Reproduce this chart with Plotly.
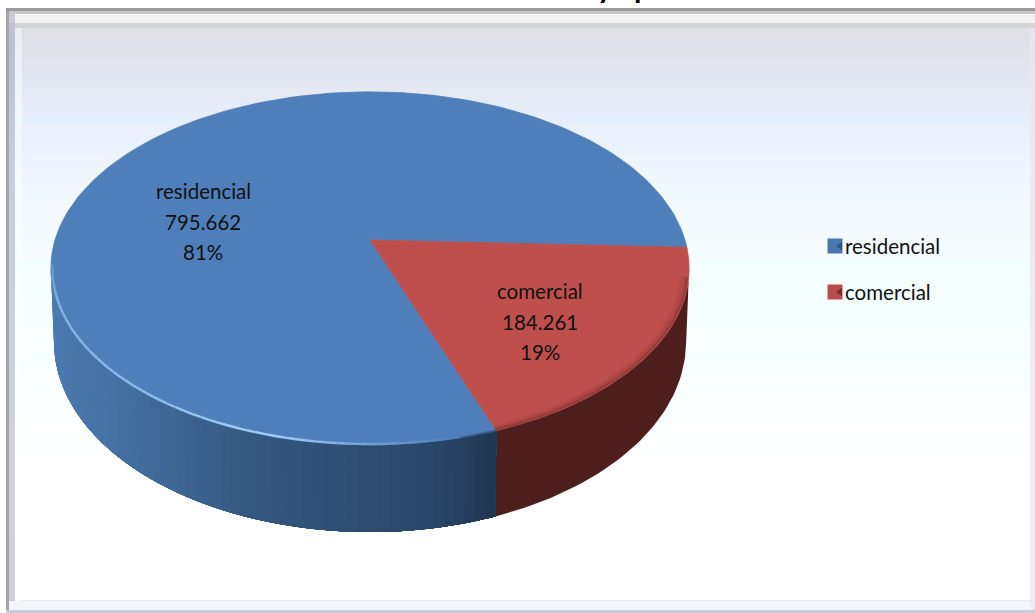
import numpy as np
import plotly.graph_objects as go

categories = ["residencial", "comercial"]
values = [795662, 184261]
value_labels = ["795.662", "184.261"]
percent_labels = ["81%", "19%"]
top_colors = ["#4f7fba", "#bf4f4c"]

FONT = "Lato"
W, H = 1035, 613
CX, CY, A, B, K = 370.0, 240.0, 315.0, 172.0, 0.161
START = -2.4
BCX, BCY, BRX, BRY = 370.0, 342.0, 316.0, 190.0

blue_side_x = [50, 130, 230, 330, 430, 470, 496]
blue_side_rgb = [(76, 122, 176), (66, 110, 158), (54, 90, 132), (47, 79, 116), (41, 70, 103), (35, 60, 88), (30, 52, 78)]
red_side_rgb = (77, 30, 28)

bg_y = [28, 70, 120, 200, 300, 400, 460, 601]
bg_rgb = [(222, 224, 229), (225, 229, 238), (232, 239, 252), (243, 249, 255), (245, 255, 255), (251, 255, 255), (255, 255, 255), (254, 254, 254)]


def project(phi_deg):
    p = np.radians(phi_deg)
    X, Y = np.cos(p), np.sin(p)
    w = 1 + K * Y
    return CX + A * X / w, CY - B * Y / w


def bottom_edge(xt):
    xb = BCX + BRX * (xt - CX) / 319.0
    u = np.clip((xb - BCX) / BRX, -1, 1)
    return xb, BCY + BRY * np.sqrt(1 - u ** 2)


def rgb(c):
    return "rgb(%d,%d,%d)" % tuple(int(round(v)) for v in c)


def lerp_rgb(x, xs, cs):
    return tuple(np.interp(x, xs, [c[i] for c in cs]) for i in range(3))


shares = np.array(values, dtype=float) / sum(values)
red_sweep = shares[1] * 360
red_a, red_b = START, START - red_sweep
blue_a, blue_b = red_b, red_b - shares[0] * 360

fig = go.Figure()
shapes = []


def rect(x0, y0, x1, y1, color):
    shapes.append(dict(type="rect", x0=x0, y0=y0, x1=x1, y1=y1, fillcolor=color,
                       line=dict(width=0), layer="below"))


# Panel with vertical gradient
for y in np.arange(8, 613, 4):
    rect(6, y, W, y + 4, rgb(lerp_rgb(y, bg_y, bg_rgb)))
# Bevel
rect(6, 8, W, 11, "#9a9a9a")
rect(6, 11, W, 14, "#c8c8c8")
rect(9, 14, W, 23, "#f3f3f3")
rect(15, 23, W, 28, "#d4d4d6")
rect(6, 11, 9, 613, "#a4a6ac")
rect(9, 14, 15, 613, "rgba(150,155,180,0.45)")
rect(15, 28, 22, 601, "rgba(255,255,255,0.45)")
rect(22, 600, W, 601, "rgba(225,228,240,0.8)")
rect(9, 601, W, 610, "#f4f5fb")
rect(6, 610, W, 613, "#c8ccda")
rect(1030, 28, W, 610, "rgba(232,230,246,0.75)")


def add_poly(xs, ys, color, edge=0):
    fig.add_trace(go.Scatter(x=xs, y=ys, mode="lines", fill="toself", fillcolor=color,
                             line=dict(width=edge, color=color), hoverinfo="skip", showlegend=False))


# Side wall: painter's order, each band reaches to the far end of its slice so no seams show
ph = np.linspace(-9.0, red_b, 50)
xt, yt = project(ph)
xb, yb = bottom_edge(xt)
add_poly(list(xt) + list(xb[::-1]), list(yt) + list(yb[::-1]), rgb(red_side_rgb))

edges_blue = np.linspace(-171.0, red_b, 61)
for a0 in edges_blue[:-1]:
    ph = np.linspace(a0, red_b, 60)
    xt, yt = project(ph)
    xb, yb = bottom_edge(xt)
    col = rgb(lerp_rgb(float(xt[0]), blue_side_x, blue_side_rgb))
    add_poly(list(xt) + list(xb[::-1]), list(yt) + list(yb[::-1]), col)

# Top face slices
for i, (a, b) in enumerate([(blue_a, blue_b), (red_a, red_b)]):
    ph = np.linspace(a, b, 240)
    xt, yt = project(ph)
    add_poly([CX] + list(xt) + [CX], [CY] + list(yt) + [CY], top_colors[i], edge=0.8)

# Soft shading along the red rim
for inset, alpha, width in [(0.996, 0.40, 2), (0.990, 0.22, 3), (0.980, 0.10, 4)]:
    ph = np.linspace(-12, red_b, 60)
    xt, yt = project(ph)
    fig.add_trace(go.Scatter(x=CX + (xt - CX) * inset, y=CY + (yt - CY) * inset, mode="lines",
                             line=dict(color="rgba(100,38,36,%.2f)" % alpha, width=width),
                             hoverinfo="skip", showlegend=False))

# Fading dark rim on the blue front edge, right of the highlight
rim_edges = np.linspace(272, 360 + red_b, 25)
for a0, a1 in zip(rim_edges[:-1], rim_edges[1:]):
    alpha = float(np.interp(0.5 * (a0 + a1), [272, 285, 360 + red_b], [0.0, 0.35, 0.6]))
    xt, yt = project(np.linspace(a0, a1, 3))
    fig.add_trace(go.Scatter(x=xt, y=yt, mode="lines", line=dict(color="rgba(40,70,105,%.2f)" % alpha, width=3),
                             hoverinfo="skip", showlegend=False))

# Highlight along the blue front edge
ph_edges = np.linspace(188, 284, 61)
for a0, a1 in zip(ph_edges[:-1], ph_edges[1:]):
    m = 0.5 * (a0 + a1)
    strength = float(np.interp(m, [188, 200, 235, 255, 270, 284], [0.25, 0.55, 0.7, 0.9, 0.35, 0.0]))
    col = rgb(tuple(np.array([79, 127, 186]) + strength * (np.array([170, 218, 255]) - np.array([79, 127, 186]))))
    xt, yt = project(np.linspace(a0, a1, 3))
    fig.add_trace(go.Scatter(x=CX + (xt - CX) * 0.995, y=CY + (yt - CY) * 0.995, mode="lines",
                             line=dict(color=col, width=2.4), hoverinfo="skip", showlegend=False))

# Legend keys
legend_y = [246, 292]
key_colors = ["#4a78ad", "#b94d4b"]
key_dark = ["#2f5686", "#7f2d2c"]
for i, name in enumerate(categories):
    fig.add_trace(go.Scatter(x=[835], y=[legend_y[i]], mode="markers",
                             marker=dict(symbol="square", size=15, color=key_colors[i], line=dict(width=0)),
                             hoverinfo="skip", showlegend=False))
    fig.add_trace(go.Scatter(x=[840], y=[legend_y[i]], mode="markers",
                             marker=dict(symbol="triangle-left", size=8, color=key_dark[i], line=dict(width=0)),
                             hoverinfo="skip", showlegend=False))

annotations = []


def label(x, y, text, size=20.5, anchor="center", color="#111111"):
    annotations.append(dict(x=x, y=y, xref="x", yref="y", text=text, showarrow=False, xanchor=anchor,
                            yanchor="middle", font=dict(family=FONT, size=size, color=color)))


slice_label_x = [203, 540]
slice_label_y = [[191, 222, 252], [291, 322, 352]]
for i, name in enumerate(categories):
    label(slice_label_x[i], slice_label_y[i][0], name)
    label(slice_label_x[i], slice_label_y[i][1], value_labels[i])
    label(slice_label_x[i], slice_label_y[i][2], percent_labels[i])
    label(843, legend_y[i], name, size=20.5, anchor="left")

# Title, almost entirely cut off by the top of the picture (as in the reference)
annotations.append(dict(x=624, y=0, yshift=14, xref="x", yref="y", text="<b>y   p</b>", showarrow=False,
                        xanchor="center", yanchor="middle", font=dict(family=FONT, size=30, color="#000000")))

fig.update_layout(
    width=W, height=H, margin=dict(l=0, r=0, t=0, b=0), paper_bgcolor="white", plot_bgcolor="rgba(0,0,0,0)",
    xaxis=dict(range=[0, W], visible=False, fixedrange=True),
    yaxis=dict(range=[H, 0], visible=False, fixedrange=True),
    shapes=shapes, annotations=annotations, showlegend=False,
)
fig.write_html("out.html", config={"displayModeBar": False},
               post_script="document.body.style.margin='0';document.body.style.overflow='hidden';")
